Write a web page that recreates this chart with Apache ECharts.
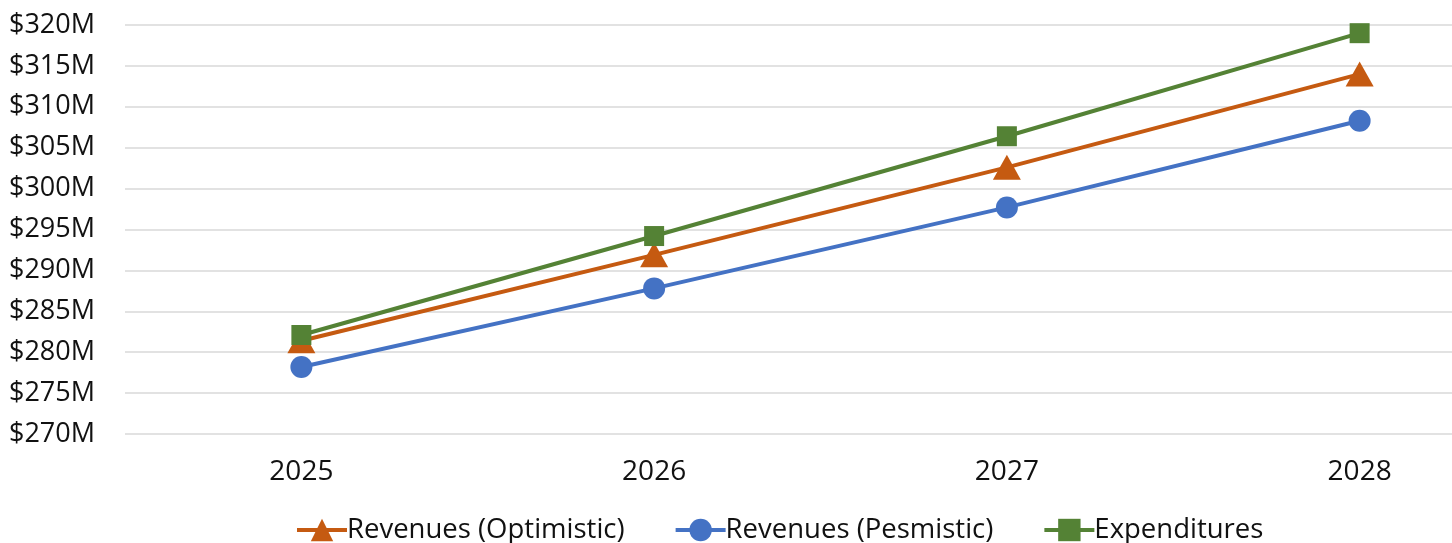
<!DOCTYPE html>
<html>
<head>
<meta charset="utf-8">
<script src="https://cdn.jsdelivr.net/npm/echarts@6/dist/echarts.min.js"></script>
<style>
html,body{margin:0;padding:0;background:#fff;}
#chart{width:1452px;height:543px;}
</style>
</head>
<body>
<div id="chart"></div>
<script>
const years = ['2025', '2026', '2027', '2028'];
const revenuesOptimistic = [281.4, 291.9, 302.6, 314.0];
const revenuesPessimistic = [278.2, 287.8, 297.7, 308.3];
const expenditures = [282.1, 294.2, 306.4, 319.0];
const seriesNames = ['Revenues (Optimistic)', 'Revenues (Pesmistic)', 'Expenditures'];
const yMin = 270, yMax = 320, yStep = 5;

const FONT = 'Open Sans';
const chart = echarts.init(document.getElementById('chart'), null, {renderer: 'canvas'});
function mk(name, data, color, symbol, size) {
  return {
    name: name, type: 'line', data: data,
    symbol: symbol, symbolSize: size,
    lineStyle: {color: color, width: 4},
    itemStyle: {color: color},
    animation: false
  };
}
chart.setOption({
  animation: false,
  textStyle: {fontFamily: FONT},
  grid: {left: 125, top: 25, height: 409, width: 1411, outerBoundsMode: 'none', containLabel: false},
  xAxis: {
    type: 'category', data: years, boundaryGap: true,
    axisLine: {show: false}, axisTick: {show: false},
    axisLabel: {color: '#111', fontSize: 28, fontFamily: FONT, margin: 24}
  },
  yAxis: {
    type: 'value', min: yMin, max: yMax, interval: yStep,
    axisLine: {show: false}, axisTick: {show: false},
    splitLine: {lineStyle: {color: '#d9d9d9', width: 1.5}},
    axisLabel: {color: '#111', fontSize: 27, fontFamily: FONT, margin: 30,
      formatter: v => '$' + v + 'M'}
  },
  legend: {
    bottom: -6, left: 290,
    itemWidth: 50, itemHeight: 28, itemGap: 49,
    lineStyle: {width: 4},
    textStyle: {color: '#111', fontSize: 27.5, fontFamily: FONT, padding: [0, 0, 0, -5]},
    data: seriesNames
  },
  series: [
    mk(seriesNames[0], revenuesOptimistic, '#C55A11', 'triangle', [28, 25]),
    mk(seriesNames[1], revenuesPessimistic, '#4472C4', 'circle', 22),
    mk(seriesNames[2], expenditures, '#548235', 'rect', 20)
  ]
});
</script>
</body>
</html>
